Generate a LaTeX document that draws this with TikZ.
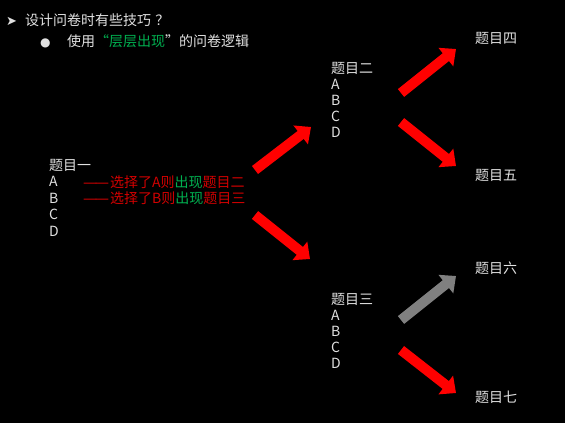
\documentclass[tikz,border=0pt]{standalone}
\usepackage{fontspec}
\setmainfont{Noto Sans CJK SC}
\newfontfamily\symfont{DejaVu Sans}
\usetikzlibrary{arrows.meta}
\definecolor{optgray}{RGB}{225,225,225}
\definecolor{hlgreen}{RGB}{0,176,80}
\definecolor{notered}{RGB}{210,0,0}
\definecolor{arrowred}{RGB}{255,0,0}
\definecolor{arrowgray}{RGB}{128,128,128}

\begin{document}
\begin{tikzpicture}[
  x=1pt,y=-1pt,
  txt/.style={anchor=base west,inner sep=0pt,text=optgray,font=\fontsize{14}{16}\selectfont},
  note/.style={txt,text=notered},
  bigarrow/.style={line width=10pt,arrowred,-{Triangle[length=13pt,width=23pt]}}
]
  \fill[black] (0,0) rectangle (565,423);
  \useasboundingbox (0,0) rectangle (565,423);

  \node[txt,font=\fontsize{13}{14}\selectfont] (mark) at (6,25) {\symfont ➤};
  \node[txt] (title) at (25,25) {设计问卷时有些技巧\hspace{0.3em}？};
  \node[txt,font=\fontsize{12}{14}\selectfont] (dot) at (40,46) {\symfont ●};
  \node[txt] (sub) at (67,46) {使用{\color{hlgreen}“层层出现}”的问卷逻辑};

  \node[txt] (q1) at (49,170) {题目一};
  \foreach \o [count=\i] in {A,B,C,D}
    \node[txt] (q1\o) at (49,{170+16.5*\i}) {\o};
  \node[note] (ruleA) at (83,187) {{\symfont —\kern-2pt—\kern1pt}选择了A则{\color{hlgreen}出现}题目二};
  \node[note] (ruleB) at (83,203.5) {{\symfont —\kern-2pt—\kern1pt}选择了B则{\color{hlgreen}出现}题目三};

  \node[txt] (q2) at (331,73) {题目二};
  \foreach \o [count=\i] in {A,B,C,D}
    \node[txt] (q2\o) at (331,{73+16.2*\i}) {\o};
  \node[txt] (q3) at (331,304) {题目三};
  \foreach \o [count=\i] in {A,B,C,D}
    \node[txt] (q3\o) at (331,{304+16.2*\i}) {\o};

  \node[txt] (q4) at (475,43) {题目四};
  \node[txt] (q5) at (475,180) {题目五};
  \node[txt] (q6) at (475,273) {题目六};
  \node[txt] (q7) at (475,402) {题目七};

  \coordinate (q1up) at (255,170);
  \coordinate (q1down) at (255,215);
  \coordinate (q2in) at (311,127);
  \coordinate (q3in) at (310,259);
  \coordinate (q2up) at (401,93);
  \coordinate (q2down) at (401,122);
  \coordinate (q3up) at (401,320);
  \coordinate (q3down) at (401,350);
  \coordinate (q4in) at (456,49);
  \coordinate (q5in) at (456,166);
  \coordinate (q6in) at (456,276);
  \coordinate (q7in) at (456,393);

  \draw[bigarrow] (q1up) -- (q2in);
  \draw[bigarrow] (q1down) -- (q3in);
  \draw[bigarrow] (q2up) -- (q4in);
  \draw[bigarrow] (q2down) -- (q5in);
  \draw[bigarrow,arrowgray] (q3up) -- (q6in);
  \draw[bigarrow] (q3down) -- (q7in);
\end{tikzpicture}
\end{document}
